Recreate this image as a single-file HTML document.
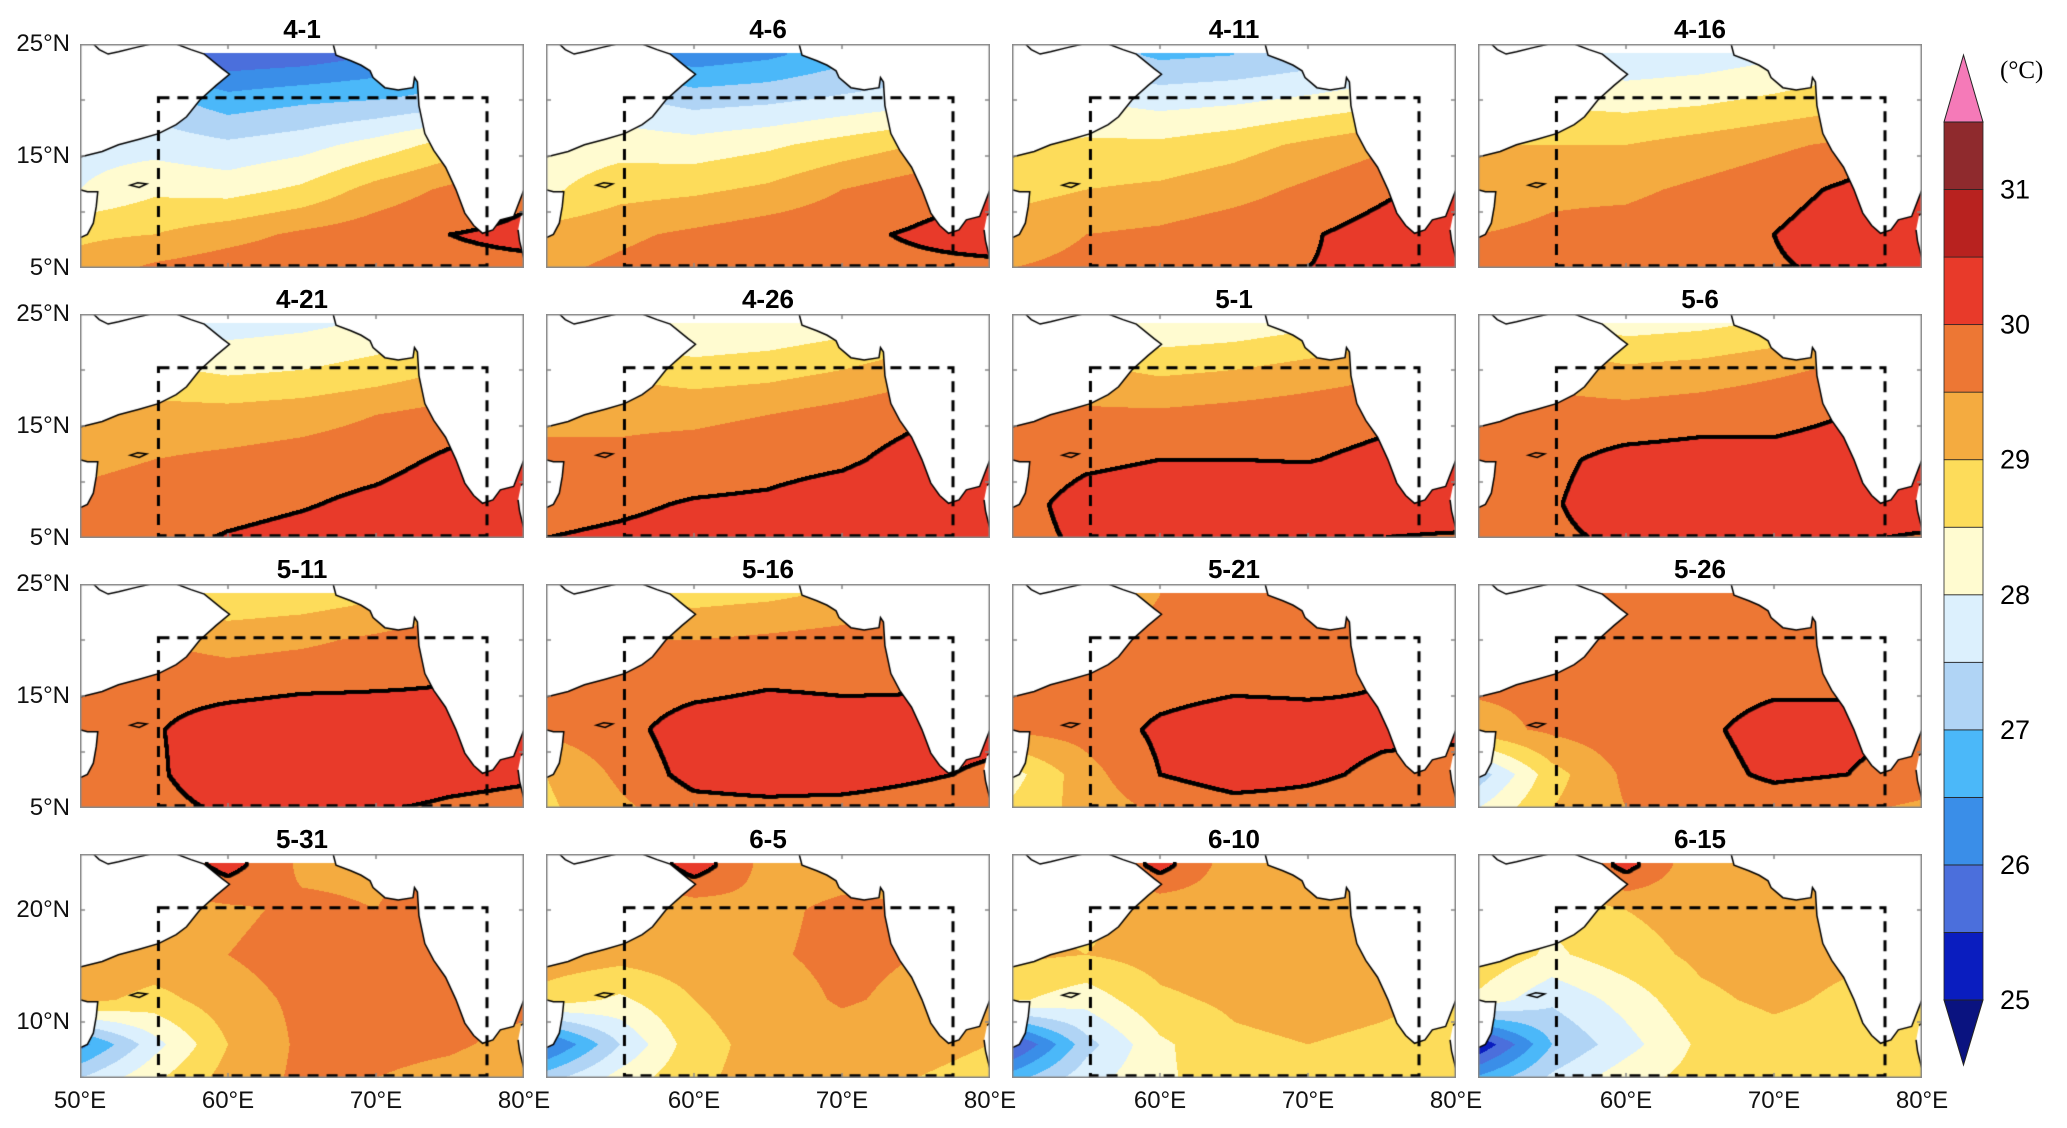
<!DOCTYPE html>
<html><head><meta charset="utf-8">
<style>
html,body{margin:0;padding:0;background:#fff;}
#fig{position:relative;width:2067px;height:1128px;overflow:hidden;font-family:"Liberation Sans",sans-serif;}
.ptitle{position:absolute;width:444px;text-align:center;font-weight:bold;font-size:26px;}
.ylab,.xlab{position:absolute;font-size:24px;color:#111;}
.ylab{width:70px;text-align:right;}
.xlab{width:100px;text-align:center;}
canvas{position:absolute;}
</style></head>
<body>
<div id="fig"></div>
<script>
// ---- data ----
const panelTitles = ["4-1","4-6","4-11","4-16","4-21","4-26","5-1","5-6","5-11","5-16","5-21","5-26","5-31","6-5","6-10","6-15"];
const gridLats = [24,20,16,12,8,5];
const gridLons = [50,55,60,65,70,75,80];
const levels = [25,25.5,26,26.5,27,27.5,28,28.5,29,29.5,30,30.5,31,31.5];
const levelColors = ["#0a1dbf","#4b6fdc","#3a8ee8","#4bb8f9","#b0d4f5","#dcf0fd","#fffbd0","#fddc5a","#f4ab40","#ed7734","#e83a2a","#b8221f","#8f2a2d"];
const underColor = "#0a1380", overColor = "#f57ab8";
const cbLabels = [25,26,27,28,29,30,31];
const contourLevel = 30;
const sst = [
[[27,26,25.6,25.7,26,26.5,27],[27.5,27.2,26.7,26.9,27.0,27.2,27.5],[27.8,27.8,27.6,27.8,28.2,28.7,29],[28.0,28.4,28.3,28.6,29.2,29.6,29.9],[28.9,29.0,29.3,29.6,29.8,30.0,30.1],[29.2,29.6,29.8,29.9,29.9,29.9,29.9]],
[[27,26.6,26.2,26.4,26.8,27,27.5],[27.8,27.6,27.3,27.4,27.6,27.8,28],[28.2,28.3,28.2,28.4,28.7,29,29.3],[28.4,28.8,28.9,29.1,29.5,29.8,30.0],[29.2,29.4,29.6,29.8,29.9,30.05,30.2],[29.4,29.6,29.8,29.9,29.9,29.9,29.9]],
[[27.5,27.3,26.9,27,27.2,27.5,28],[28,28,27.8,27.9,28.1,28.3,28.5],[28.5,28.6,28.6,28.8,29.1,29.4,29.6],[28.8,29,29.1,29.3,29.6,29.9,30.2],[29.3,29.5,29.6,29.8,29.95,30.2,30.4],[29.5,29.6,29.8,29.9,30.0,30.1,30.2]],
[[28,27.8,27.6,27.7,27.9,28.2,28.5],[28.5,28.4,28.3,28.4,28.6,28.8,29],[29,29,29,29.2,29.4,29.6,29.8],[29.2,29.4,29.4,29.6,29.8,30.1,30.4],[29.5,29.6,29.7,29.85,30.0,30.3,30.5],[29.6,29.7,29.8,29.9,29.95,30.1,30.3]],
[[28.2,28,27.8,27.9,28.1,28.3,28.5],[28.7,28.6,28.4,28.5,28.7,29,29.2],[29.2,29.2,29.2,29.3,29.5,29.7,30],[29.4,29.5,29.6,29.7,29.8,30.1,30.4],[29.6,29.7,29.8,29.95,30.15,30.4,30.5],[29.7,29.8,30.05,30.2,30.3,30.4,30.4]],
[[28.4,28.2,28,28.1,28.3,28.6,29],[29,28.9,28.7,28.8,29,29.3,29.5],[29.4,29.4,29.4,29.5,29.7,29.9,30.1],[29.6,29.6,29.7,29.8,29.9,30.2,30.4],[29.8,29.9,30.05,30.1,30.3,30.5,30.5],[30,30.1,30.2,30.3,30.3,30.4,30.4]],
[[28.6,28.4,28.1,28.2,28.4,28.7,29],[29.2,29.1,28.9,29,29.2,29.4,29.6],[29.5,29.6,29.6,29.7,29.8,29.9,30.1],[29.7,29.9,30.0,30.0,29.98,30.1,30.4],[29.8,30.2,30.3,30.3,30.3,30.4,30.5],[29.8,30.1,30.2,30.2,30.2,30.0,29.9]],
[[28.8,28.6,28.3,28.4,28.6,28.9,29.2],[29.3,29.3,29.1,29.2,29.4,29.6,29.8],[29.6,29.7,29.7,29.8,29.9,30,30.2],[29.7,29.9,30.15,30.2,30.1,30.15,30.4],[29.8,29.95,30.3,30.4,30.4,30.4,30.5],[29.8,29.9,30.1,30.2,30.2,30.1,29.9]],
[[29,28.8,28.6,28.7,28.9,29.2,29.5],[29.5,29.5,29.3,29.4,29.6,29.8,30],[29.7,29.8,29.8,29.9,29.95,30,30.2],[29.8,29.95,30.3,30.4,30.3,30.2,30.3],[29.7,29.9,30.4,30.5,30.4,30.2,30.1],[29.6,29.8,30.1,30.1,30.05,29.9,29.8]],
[[29.3,29,28.8,28.9,29.1,29.4,29.6],[29.5,29.5,29.5,29.6,29.7,29.8,30],[29.6,29.7,29.8,29.95,29.9,29.95,30.1],[29.6,29.8,30.3,30.4,30.3,30.2,30.2],[29.0,29.6,30.2,30.3,30.3,30.1,29.9],[28.9,29.4,29.8,29.85,29.8,29.7,29.6]],
[[29.4,29.2,29.5,29.6,29.6,29.8,30],[29.5,29.5,29.6,29.7,29.8,29.9,30],[29.7,29.7,29.8,29.9,29.9,30.0,30.1],[29.6,29.7,30.1,30.3,30.2,30.1,30.1],[28.3,29.3,30.0,30.25,30.1,29.9,29.8],[28.6,29.2,29.6,29.8,29.8,29.7,29.6]],
[[29.6,29.4,29.6,29.7,29.8,29.9,30.1],[29.6,29.6,29.6,29.7,29.8,29.9,30],[29.6,29.6,29.7,29.8,29.9,29.95,30.05],[29.3,29.6,29.8,29.9,30.2,30.1,30],[27.2,28.8,29.6,29.8,30.1,30.0,29.8],[28.0,29.0,29.5,29.6,29.7,29.6,29.4]],
[[29.5,29.5,30.2,29.4,29.4,29.6,30],[29.5,29.3,29.4,29.6,29.5,29.8,30],[29.6,29.4,29.5,29.7,29.7,29.8,30],[29.2,28.8,29.3,29.6,29.7,29.7,29.7],[26.3,27.8,29.0,29.6,29.7,29.6,29.3],[27.5,28.4,29.2,29.6,29.5,29.3,29.0]],
[[29.3,29.3,30.3,29.3,29.3,29.4,29.6],[29.2,29.1,29.2,29.4,29.6,29.5,29.6],[29.3,29.2,29.3,29.45,29.6,29.5,29.5],[28.8,28.4,29.0,29.3,29.55,29.4,29.3],[25.8,27.5,28.8,29.2,29.3,29.2,29.0],[27.3,28.2,28.9,29.2,29.2,29.0,28.8]],
[[29.3,29.2,30.2,29.2,29.3,29.4,29.5],[29,28.9,29.1,29.25,29.3,29.25,29.3],[29.1,29.0,29.2,29.3,29.35,29.3,29.3],[28.6,28.2,28.9,29.1,29.2,29.1,29.0],[25.3,27.3,28.4,28.9,29.0,28.9,28.7],[26.8,27.8,28.4,28.8,28.8,28.7,28.6]],
[[29.2,29.1,30.2,29.1,29.2,29.3,29.4],[28.8,28.6,29.0,29.2,29.3,29.2,29.2],[28.9,28.4,28.8,29.1,29.2,29.1,29.1],[28.4,27.6,28.2,28.9,29.1,28.9,28.8],[25.0,27.0,27.8,28.6,28.8,28.7,28.5],[26.6,27.6,28.3,28.7,28.7,28.6,28.5]]
];
// coastlines [lon,lat]
const arabia = [[50,14.9],[51.5,15.4],[52.6,16.0],[54,16.5],[55.3,17.0],[56.5,17.8],[57.2,18.5],[58.1,20.0],[59.2,21.3],[60.1,22.3],[59.6,22.8],[58.4,24.1],[57.5,24.5],[56.5,25],[50,25]];
const iran = [[50.9,25],[51.3,24.5],[51.9,24.1],[52.6,24.3],[53.8,24.7],[54.8,25]];
const india = [[67.1,25],[67.3,24],[68.3,23.5],[69,23.1],[69.6,22.6],[69.8,22],[70.6,21.1],[71.5,20.9],[72.5,21.1],[72.6,22],[72.8,21.6],[72.9,19.5],[73.3,17],[73.9,15.5],[74.7,14],[75.4,12],[76,9.9],[76.6,8.8],[77.2,8.1],[77.9,8.4],[78.4,9.3],[79.3,9.6],[80,12],[80,25]];
const srilanka = [[79.8,9.7],[80,9.9],[80,5.8],[79.9,6.3],[79.7,7.4],[79.6,8.4]];
const somalia = [[50,12],[50.5,11.8],[51.2,11.8],[51.1,10.5],[50.9,9],[50.5,8],[50,7.7]];
const socotra = [[53.4,12.4],[53.9,12.6],[54.5,12.5],[54.0,12.2]];
const studyBox = [55.3,77.5,5.2,20.2];

// ---- layout ----
const colX = [80,546,1012,1478], rowY = [44,314,584,854], PW = 444, PH = 224;
const LON0=50, LON1=80, LAT0=5, LAT1=25, DATA_TOP=24.2;
const fig = document.getElementById('fig');
function xs(lon){return (lon-LON0)/(LON1-LON0)*PW;}
function ys(lat){return (LAT1-lat)/(LAT1-LAT0)*PH;}
function hex(c){return [parseInt(c.slice(1,3),16),parseInt(c.slice(3,5),16),parseInt(c.slice(5,7),16)];}
const rgb = levelColors.map(hex), under=hex(underColor), over=hex(overColor);
function interp(g,lon,lat){
  let la = Math.min(Math.max(lat,gridLats[gridLats.length-1]),gridLats[0]);
  let i=0; while(i<gridLats.length-2 && la<gridLats[i+1]) i++;
  let j=0; while(j<gridLons.length-2 && lon>gridLons[j+1]) j++;
  const ty=(gridLats[i]-la)/(gridLats[i]-gridLats[i+1]);
  const tx=(lon-gridLons[j])/(gridLons[j+1]-gridLons[j]);
  const a=g[i][j]*(1-tx)+g[i][j+1]*tx, b=g[i+1][j]*(1-tx)+g[i+1][j+1]*tx;
  return a*(1-ty)+b*ty;
}
function colorFor(v){
  if(v<levels[0]) return under;
  if(v>=levels[levels.length-1]) return over;
  let k=Math.floor((v-levels[0])/0.5); return rgb[Math.min(k,rgb.length-1)];
}
function poly(ctx,pts,close){
  ctx.beginPath(); pts.forEach((p,i)=>{const x=xs(p[0]),y=ys(p[1]); i?ctx.lineTo(x,y):ctx.moveTo(x,y);}); if(close) ctx.closePath();
}

panelTitles.forEach((title,p)=>{
  const c=p%4, r=Math.floor(p/4), X=colX[c], Y=rowY[r];
  const t=document.createElement('div'); t.className='ptitle';
  
  
  t.style.left=X+'px'; t.style.top=(Y-30)+'px'; t.textContent=title; fig.appendChild(t);
  const cv=document.createElement('canvas'); cv.width=PW; cv.height=PH;
  
  
  cv.style.left=X+'px'; cv.style.top=Y+'px'; fig.appendChild(cv);
  const ctx=cv.getContext('2d'); const img=ctx.createImageData(PW,PH); const g=sst[p];
  const vals=new Float32Array(PW*PH);
  for(let y=0;y<PH;y++){const lat=LAT1-(y+0.5)/PH*(LAT1-LAT0);
    for(let x=0;x<PW;x++){const lon=LON0+(x+0.5)/PW*(LON1-LON0);
      const k=y*PW+x, o=k*4;
      if(lat>DATA_TOP){vals[k]=NaN;img.data[o]=img.data[o+1]=img.data[o+2]=255;img.data[o+3]=255;continue;}
      const v=interp(g,lon,lat); vals[k]=v; const col=colorFor(v);
      img.data[o]=col[0];img.data[o+1]=col[1];img.data[o+2]=col[2];img.data[o+3]=255;}}
  ctx.putImageData(img,0,0);
  ctx.fillStyle='#000';
  for(let y=0;y<PH-1;y++)for(let x=0;x<PW-1;x++){const k=y*PW+x,v=vals[k];if(isNaN(v))continue;
    const a=v>=contourLevel, b=vals[k+1]>=contourLevel, d=vals[k+PW];
    if(a!==b || (!isNaN(d) && a!==(d>=contourLevel))) ctx.fillRect(x-1,y-1,3.5,3.5);}
  // land
  ctx.fillStyle='#fff'; ctx.strokeStyle='#000'; ctx.lineWidth=1.5;
  [arabia,india,srilanka,somalia].forEach(L=>{poly(ctx,L,true);ctx.fill();});
  [arabia.slice(0,-1),india.slice(0,-1),somalia,iran].forEach(L=>{poly(ctx,L,false);ctx.stroke();});
  poly(ctx,srilanka,false);ctx.stroke(); poly(ctx,socotra,true);ctx.stroke();
  // study box
  ctx.setLineDash([11,8]); ctx.lineWidth=3;
  ctx.strokeRect(xs(studyBox[0]),ys(studyBox[3]),xs(studyBox[1])-xs(studyBox[0]),ys(studyBox[2])-ys(studyBox[3]));
  ctx.setLineDash([]);
  // frame + ticks
  ctx.strokeStyle='#888'; ctx.lineWidth=1.5; ctx.strokeRect(0.75,0.75,PW-1.5,PH-1.5);
  [60,70].forEach(l=>{ctx.beginPath();ctx.moveTo(xs(l),0);ctx.lineTo(xs(l),5);ctx.moveTo(xs(l),PH);ctx.lineTo(xs(l),PH-5);ctx.stroke();});
  (r<3?[10,15,20]:[10,20]).forEach(l=>{ctx.beginPath();ctx.moveTo(PW,ys(l));ctx.lineTo(PW-5,ys(l));ctx.moveTo(0,ys(l));ctx.lineTo(5,ys(l));ctx.stroke();});
  // y labels
  if(c===0){
    const labs = r<3?[25,15,5]:[20,10];
    labs.forEach(l=>{const d=document.createElement('div');d.className='ylab';
      
      
      d.style.left='0px';d.style.top=(Y+ys(l)-14)+'px';d.textContent=l+'°N';fig.appendChild(d);});
  }
  if(r===3){
    (c===0?[50,60,70,80]:[60,70,80]).forEach(l=>{const d=document.createElement('div');d.className='xlab';
      
      
      d.style.left=(X+xs(l)-50)+'px';d.style.top='1087px';d.textContent=l+'°E';fig.appendChild(d);});
  }
});

// colorbar
const cbX=1944, cbW=39, cbTop=122, cbBot=1000, seg=(cbBot-cbTop)/levelColors.length;
const NS='http://www.w3.org/2000/svg';
const svg=document.createElementNS(NS,'svg'); svg.setAttribute('width','2067'); svg.setAttribute('height','1128');
svg.style.position='absolute'; svg.style.left='0'; svg.style.top='0';


fig.appendChild(svg);
function cbY(v){return cbBot-(v-levels[0])/0.5*seg;}
levelColors.forEach((col,i)=>{const rc=document.createElementNS(NS,'rect');
  
  
  rc.setAttribute('x',cbX);rc.setAttribute('y',cbY(levels[i+1]));rc.setAttribute('width',cbW);rc.setAttribute('height',seg);
  rc.setAttribute('fill',col);rc.setAttribute('stroke','#222');rc.setAttribute('stroke-width','0.8');svg.appendChild(rc);});
const up=document.createElementNS(NS,'polygon');


up.setAttribute('points',`${cbX},${cbTop} ${cbX+cbW},${cbTop} ${cbX+cbW/2},55`);up.setAttribute('fill',overColor);up.setAttribute('stroke','#222');svg.appendChild(up);
const dn=document.createElementNS(NS,'polygon');


dn.setAttribute('points',`${cbX},${cbBot} ${cbX+cbW},${cbBot} ${cbX+cbW/2},1065`);dn.setAttribute('fill',underColor);dn.setAttribute('stroke','#222');svg.appendChild(dn);
cbLabels.forEach(v=>{const tx=document.createElementNS(NS,'text');
  
  
  tx.setAttribute('x',2000);tx.setAttribute('y',cbY(v)+9);tx.setAttribute('font-size','27');
  tx.setAttribute('font-family','Liberation Sans, sans-serif');tx.textContent=v;svg.appendChild(tx);});
const unit=document.createElementNS(NS,'text');


unit.setAttribute('x',2000);unit.setAttribute('y',78);unit.setAttribute('font-size','25');
unit.setAttribute('font-family','Liberation Serif, serif');unit.textContent='(°C)';svg.appendChild(unit);
</script>
</body></html>
